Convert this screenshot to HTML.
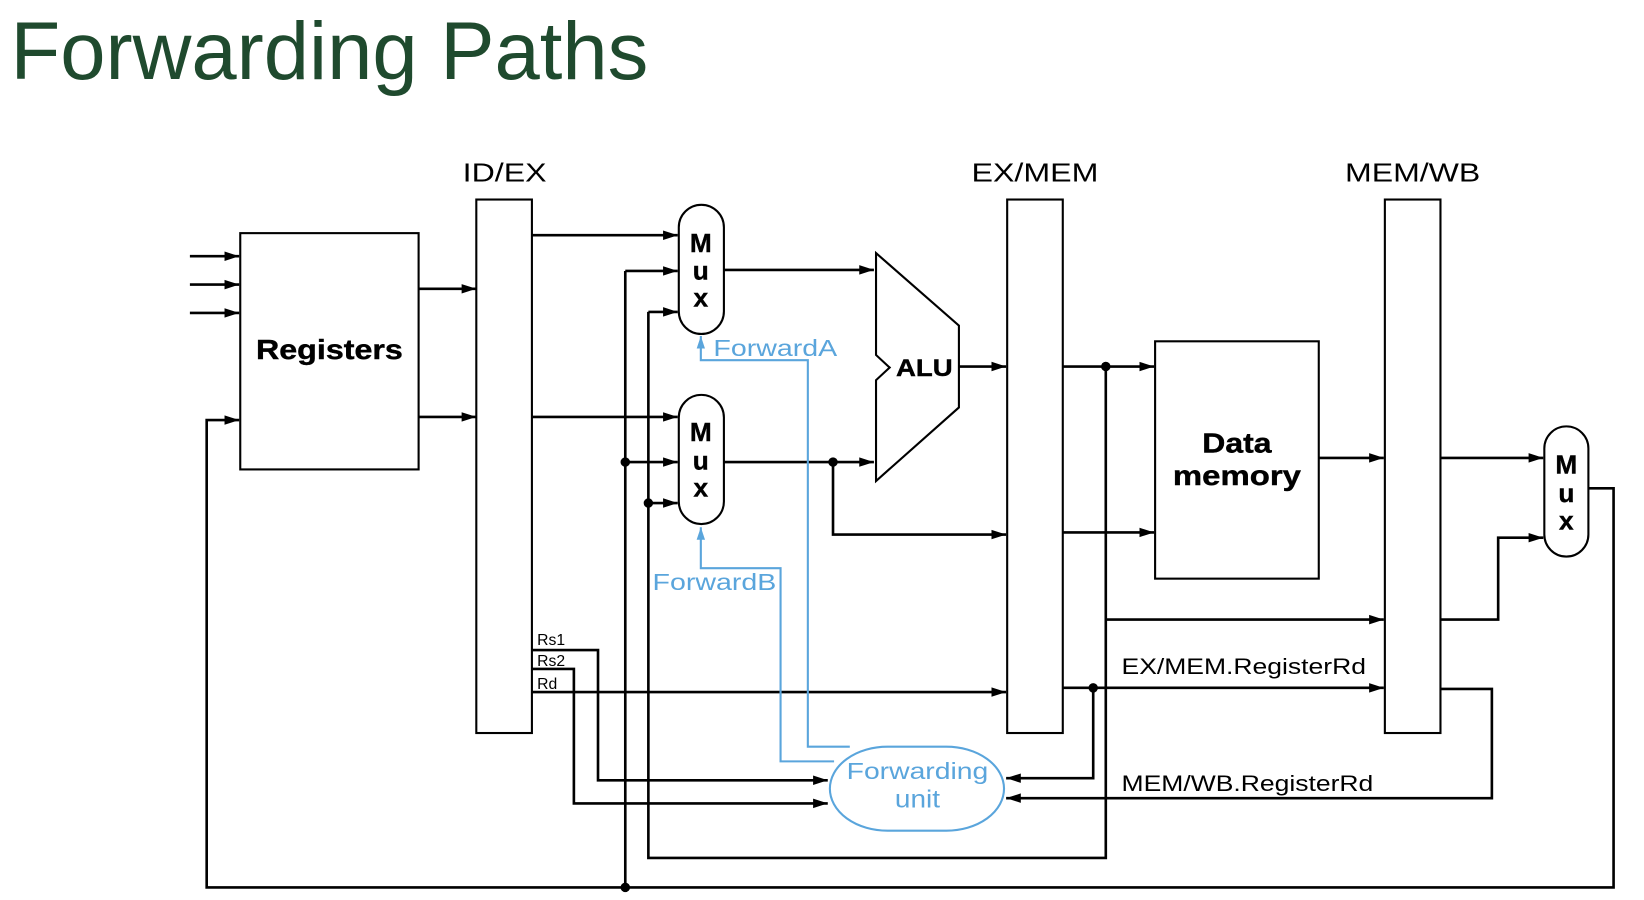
<!DOCTYPE html>
<html><head><meta charset="utf-8"><style>
html,body{margin:0;padding:0;background:#fff;}
svg{display:block;}
</style></head><body>
<svg width="1644" height="900" viewBox="0 0 1567 857" preserveAspectRatio="none" xmlns="http://www.w3.org/2000/svg">
<defs>
<marker id="a" viewBox="0 0 14 10" refX="14" refY="5" markerWidth="14" markerHeight="10" markerUnits="userSpaceOnUse" orient="auto"><path d="M0,0.5 L14,5 L0,9.5 z" fill="#000"/></marker>
<marker id="b" viewBox="0 0 12 10" refX="12" refY="5" markerWidth="12" markerHeight="10" markerUnits="userSpaceOnUse" orient="auto"><path d="M0,1 L12,5 L0,9 z" fill="#5aa5dc"/></marker>
</defs>
<text x="10" y="75" font-family="Liberation Sans, sans-serif" font-size="78" fill="#1f4a2e" textLength="608" lengthAdjust="spacingAndGlyphs">Forwarding Paths</text>

<g font-family="Liberation Sans, sans-serif" font-size="25">
<text x="441" y="173" textLength="80" lengthAdjust="spacingAndGlyphs">ID/EX</text>
<text x="926" y="173" textLength="121" lengthAdjust="spacingAndGlyphs">EX/MEM</text>
<text x="1282" y="173" textLength="129" lengthAdjust="spacingAndGlyphs">MEM/WB</text>
</g>

<g fill="none" stroke="#000" stroke-width="2">
<rect x="229" y="222" width="170" height="225"/>
<rect x="454" y="190" width="53" height="508"/>
<rect x="960" y="190" width="53" height="508"/>
<rect x="1320" y="190" width="53" height="508"/>
<rect x="1101" y="325" width="156" height="226"/>
<rect x="647" y="195" width="43" height="123" rx="21.5"/>
<rect x="647" y="376" width="43" height="123" rx="21.5"/>
<rect x="1472" y="406" width="42" height="124" rx="21"/>
<polygon points="835,241 914,310 914,388 835,458 835,362 848,350 835,338"/>
</g>

<g font-family="Liberation Sans, sans-serif" font-weight="bold" font-size="26" stroke="#000" stroke-width="0.4">
<text x="244" y="342" textLength="140" lengthAdjust="spacingAndGlyphs">Registers</text>
<text x="1146" y="431" textLength="66" lengthAdjust="spacingAndGlyphs">Data</text>
<text x="1118" y="462" textLength="122" lengthAdjust="spacingAndGlyphs">memory</text>
<text x="854" y="358" font-size="23" textLength="54" lengthAdjust="spacingAndGlyphs">ALU</text>
</g>
<g font-family="Liberation Sans, sans-serif" font-weight="bold" text-anchor="middle" font-size="25" stroke="#000" stroke-width="0.4">
<text x="668" y="240">M</text><text x="668" y="266">u</text><text x="668" y="292">x</text>
<text x="668" y="420">M</text><text x="668" y="447">u</text><text x="668" y="473">x</text>
<text x="1493" y="451">M</text><text x="1493" y="478">u</text><text x="1493" y="504">x</text>
</g>

<g fill="none" stroke="#000" stroke-width="2.5" marker-end="url(#a)">
<path d="M181,244 H228"/><path d="M181,271 H228"/><path d="M181,298 H228"/>
<path d="M399,275 H454"/><path d="M399,397 H454"/>
<path d="M507,224 H646"/><path d="M507,397 H646"/>
<path d="M596,258 H646"/><path d="M618,297 H646"/>
<path d="M596,440 H646"/><path d="M618,479 H646"/>
<path d="M690,257 H833"/><path d="M690,440 H833"/>
<path d="M794,440 V509 H959"/>
<path d="M914,349 H959"/>
<path d="M1013,349 H1100"/><path d="M1013,507 H1100"/>
<path d="M1257,436 H1319"/><path d="M1373,436 H1471"/>
<path d="M1054,590 H1319"/>
<path d="M1373,590 H1428 V512 H1471"/>
<path d="M1514,465 H1538 V845 H197 V400 H228"/>
<path d="M507,619 H570 V743 H789"/>
<path d="M507,637 H547 V765 H789"/>
<path d="M507,659 H959"/>
<path d="M1013,655 H1319"/>
<path d="M1042,655 V741 H959"/>
<path d="M1373,656 H1422 V760 H959"/>
</g>
<g fill="none" stroke="#000" stroke-width="2.5">
<path d="M596,258 V845"/><path d="M618,297 V817 H1054 V349"/>
</g>
<g fill="#000">
<circle cx="596" cy="440" r="4.5"/><circle cx="618" cy="479" r="4.5"/>
<circle cx="794" cy="440" r="4.5"/><circle cx="1054" cy="349" r="4.5"/>
<circle cx="1042" cy="655" r="4.5"/><circle cx="596" cy="845" r="4.5"/>
</g>

<g font-family="Liberation Sans, sans-serif" font-size="15">
<text x="512" y="614">Rs1</text><text x="512" y="634">Rs2</text><text x="512" y="656">Rd</text>
</g>
<g font-family="Liberation Sans, sans-serif" font-size="21">
<text x="1069" y="642" textLength="233" lengthAdjust="spacingAndGlyphs">EX/MEM.RegisterRd</text>
<text x="1069" y="753" textLength="240" lengthAdjust="spacingAndGlyphs">MEM/WB.RegisterRd</text>
</g>

<g fill="none" stroke="#5aa5dc" stroke-width="2">
<rect x="791" y="711" width="166" height="80" rx="55" ry="40"/>
<path d="M810,711 H770 V343 H668 V320" marker-end="url(#b)"/>
<path d="M795,725 H744 V541 H668 V502" marker-end="url(#b)"/>
</g>
<g font-family="Liberation Sans, sans-serif" font-size="22" fill="#5aa5dc">
<text x="680" y="339" textLength="118" lengthAdjust="spacingAndGlyphs">ForwardA</text>
<text x="622" y="562" textLength="118" lengthAdjust="spacingAndGlyphs">ForwardB</text>
<text x="807" y="742" textLength="135" lengthAdjust="spacingAndGlyphs">Forwarding</text>
<text x="853" y="769" font-size="24" textLength="43" lengthAdjust="spacingAndGlyphs">unit</text>
</g>
</svg>
</body></html>
